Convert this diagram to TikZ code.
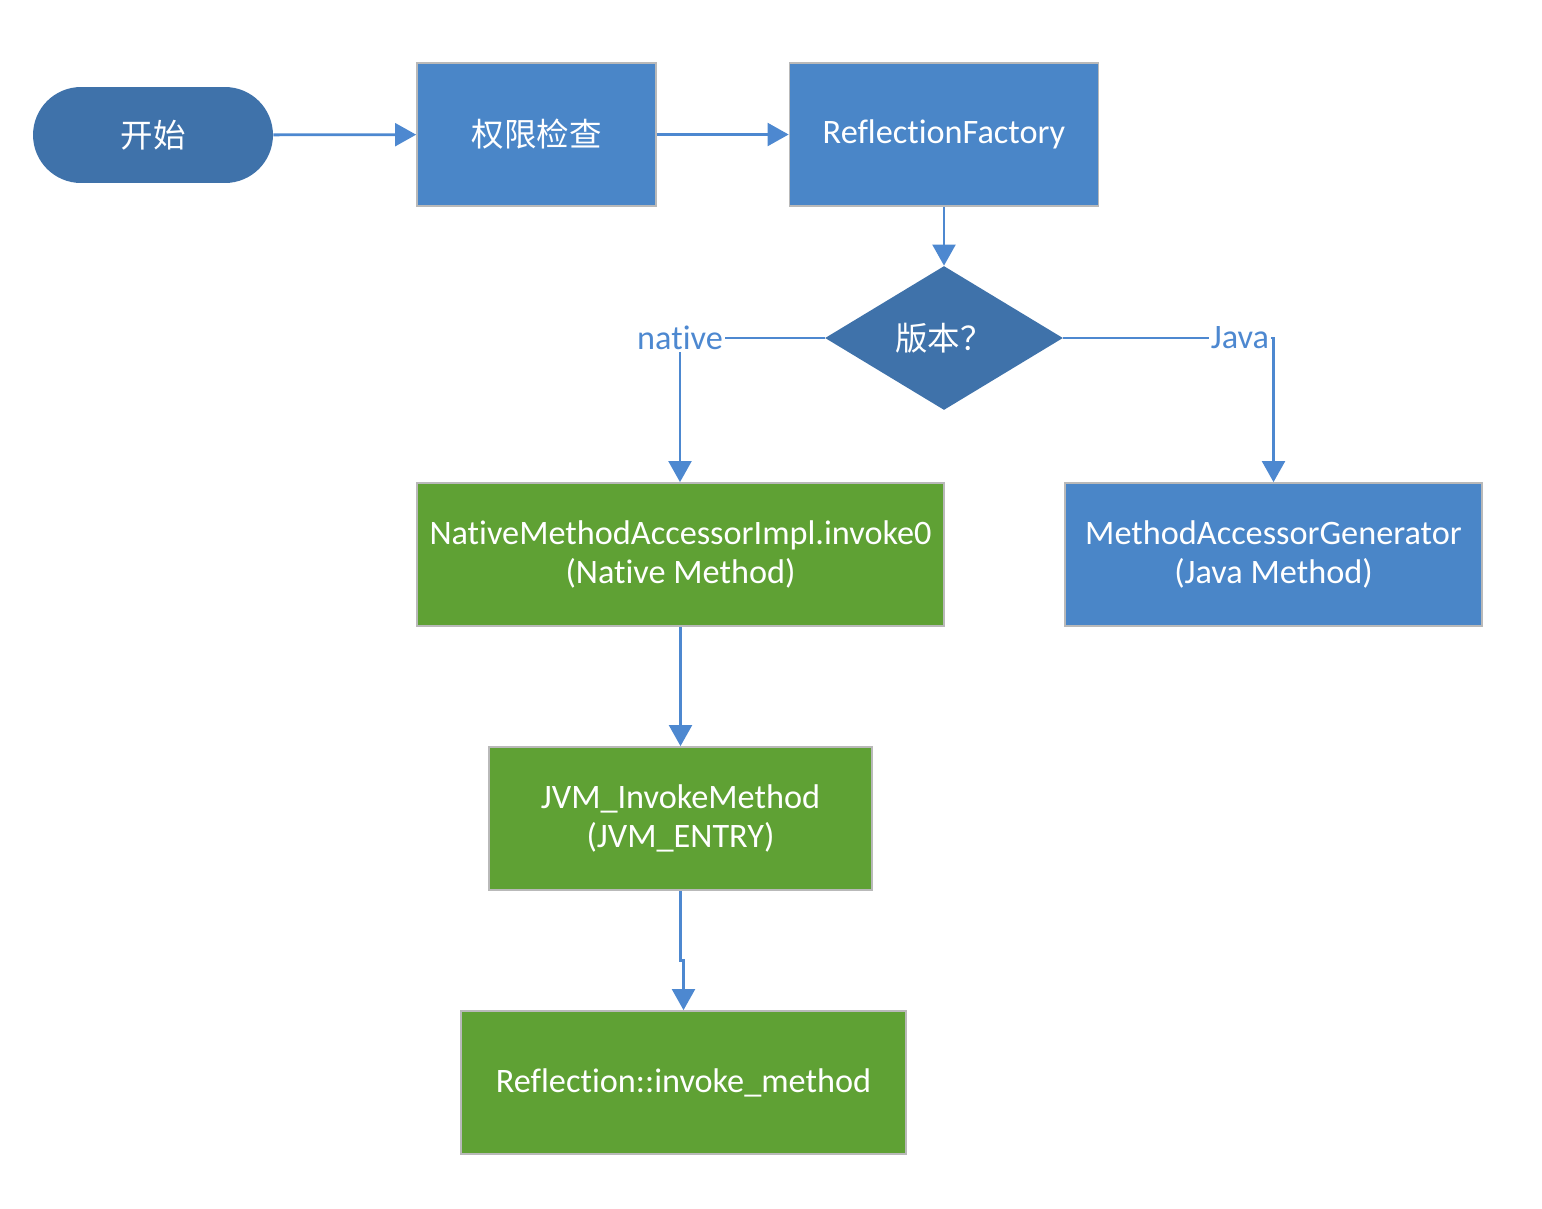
\documentclass[tikz,border=0pt]{standalone}
\usepackage{fontspec}
\setmainfont{Carlito}[Ligatures=NoCommon]
\newfontfamily\cjk{Noto Sans CJK SC}
\usetikzlibrary{shapes.geometric,arrows.meta}

\definecolor{boxblue}{HTML}{4A86C8}
\definecolor{darkblue}{HTML}{3F72AA}
\definecolor{boxgreen}{HTML}{5FA134}
\definecolor{linkblue}{HTML}{4D88D0}

\tikzset{
  proc/.style={rectangle, fill=boxblue, draw=gray!55, line width=1pt,
    text=white, align=center, inner sep=0pt, minimum height=2.86cm},
  green proc/.style={proc, fill=boxgreen},
  startbox/.style={rectangle, rounded corners=0.96cm, fill=darkblue,
    text=white, minimum width=4.8cm, minimum height=1.92cm},
  decide/.style={diamond, fill=darkblue, text=white, inner sep=0pt,
    minimum width=4.76cm, minimum height=2.88cm},
  branch/.style={text=linkblue, inner sep=1pt},
  link/.style={draw=linkblue, line width=1.6pt,
    -{Triangle[width=13pt,length=12pt]}},
  plain link/.style={draw=linkblue, line width=1.6pt}
}

\newcommand{\zh}[1]{{\cjk\fontsize{18.5}{22}\selectfont #1}}

\begin{document}
\begin{tikzpicture}[x=0.02cm, y=-0.02cm, font=\fontsize{19.5}{22.5}\selectfont]
        \useasboundingbox (0,0) rectangle (1542,1208);

        % top row
        \node[startbox] (start) at (153,135) {\zh{开始}};
        \node[proc, minimum width=4.78cm] (check) at (536.5,134.5) {\zh{权限检查}};
        \node[proc, minimum width=6.18cm] (factory) at (944,134.5) {ReflectionFactory};

        % version test
        \node[decide] (version) at (944,338) {\zh{版本？}};
        \node[branch] (native) at (680,338) {native};
        \node[branch] (java) at (1240,338) {Java};

        % the two ways
        \node[green proc, minimum width=10.54cm] (invoke0) at (680.5,554.5)
                {NativeMethodAccessorImpl.invoke0\\(Native Method)};
        \node[proc, minimum width=8.34cm] (generator) at (1273.5,554.5)
                {MethodAccessorGenerator\\(Java Method)};
        \node[green proc, minimum width=7.66cm] (jvm) at (680.5,818.5)
                {JVM\_InvokeMethod\\(JVM\_ENTRY)};
        \node[green proc, minimum width=8.9cm] (reflect) at (683.5,1082.5)
                {Reflection::invoke\_method};

        % connectors
        \draw[link] (start) -- (check);
        \draw[link] (check) -- (factory);
        \draw[link] (factory) -- (version);
        \draw[plain link] (version.west) -- (native.east);
        \draw[link] (native.south) -- (invoke0.north -| native.south);
        \draw[plain link] (version.east) -- (java.west);
        \draw[link] (java.east) -| (generator.north);
        \draw[link] (invoke0.south) -- (jvm.north);
        \draw[link] (jvm.south) -- ++(0,70) -| (reflect.north);
\end{tikzpicture}
\end{document}
